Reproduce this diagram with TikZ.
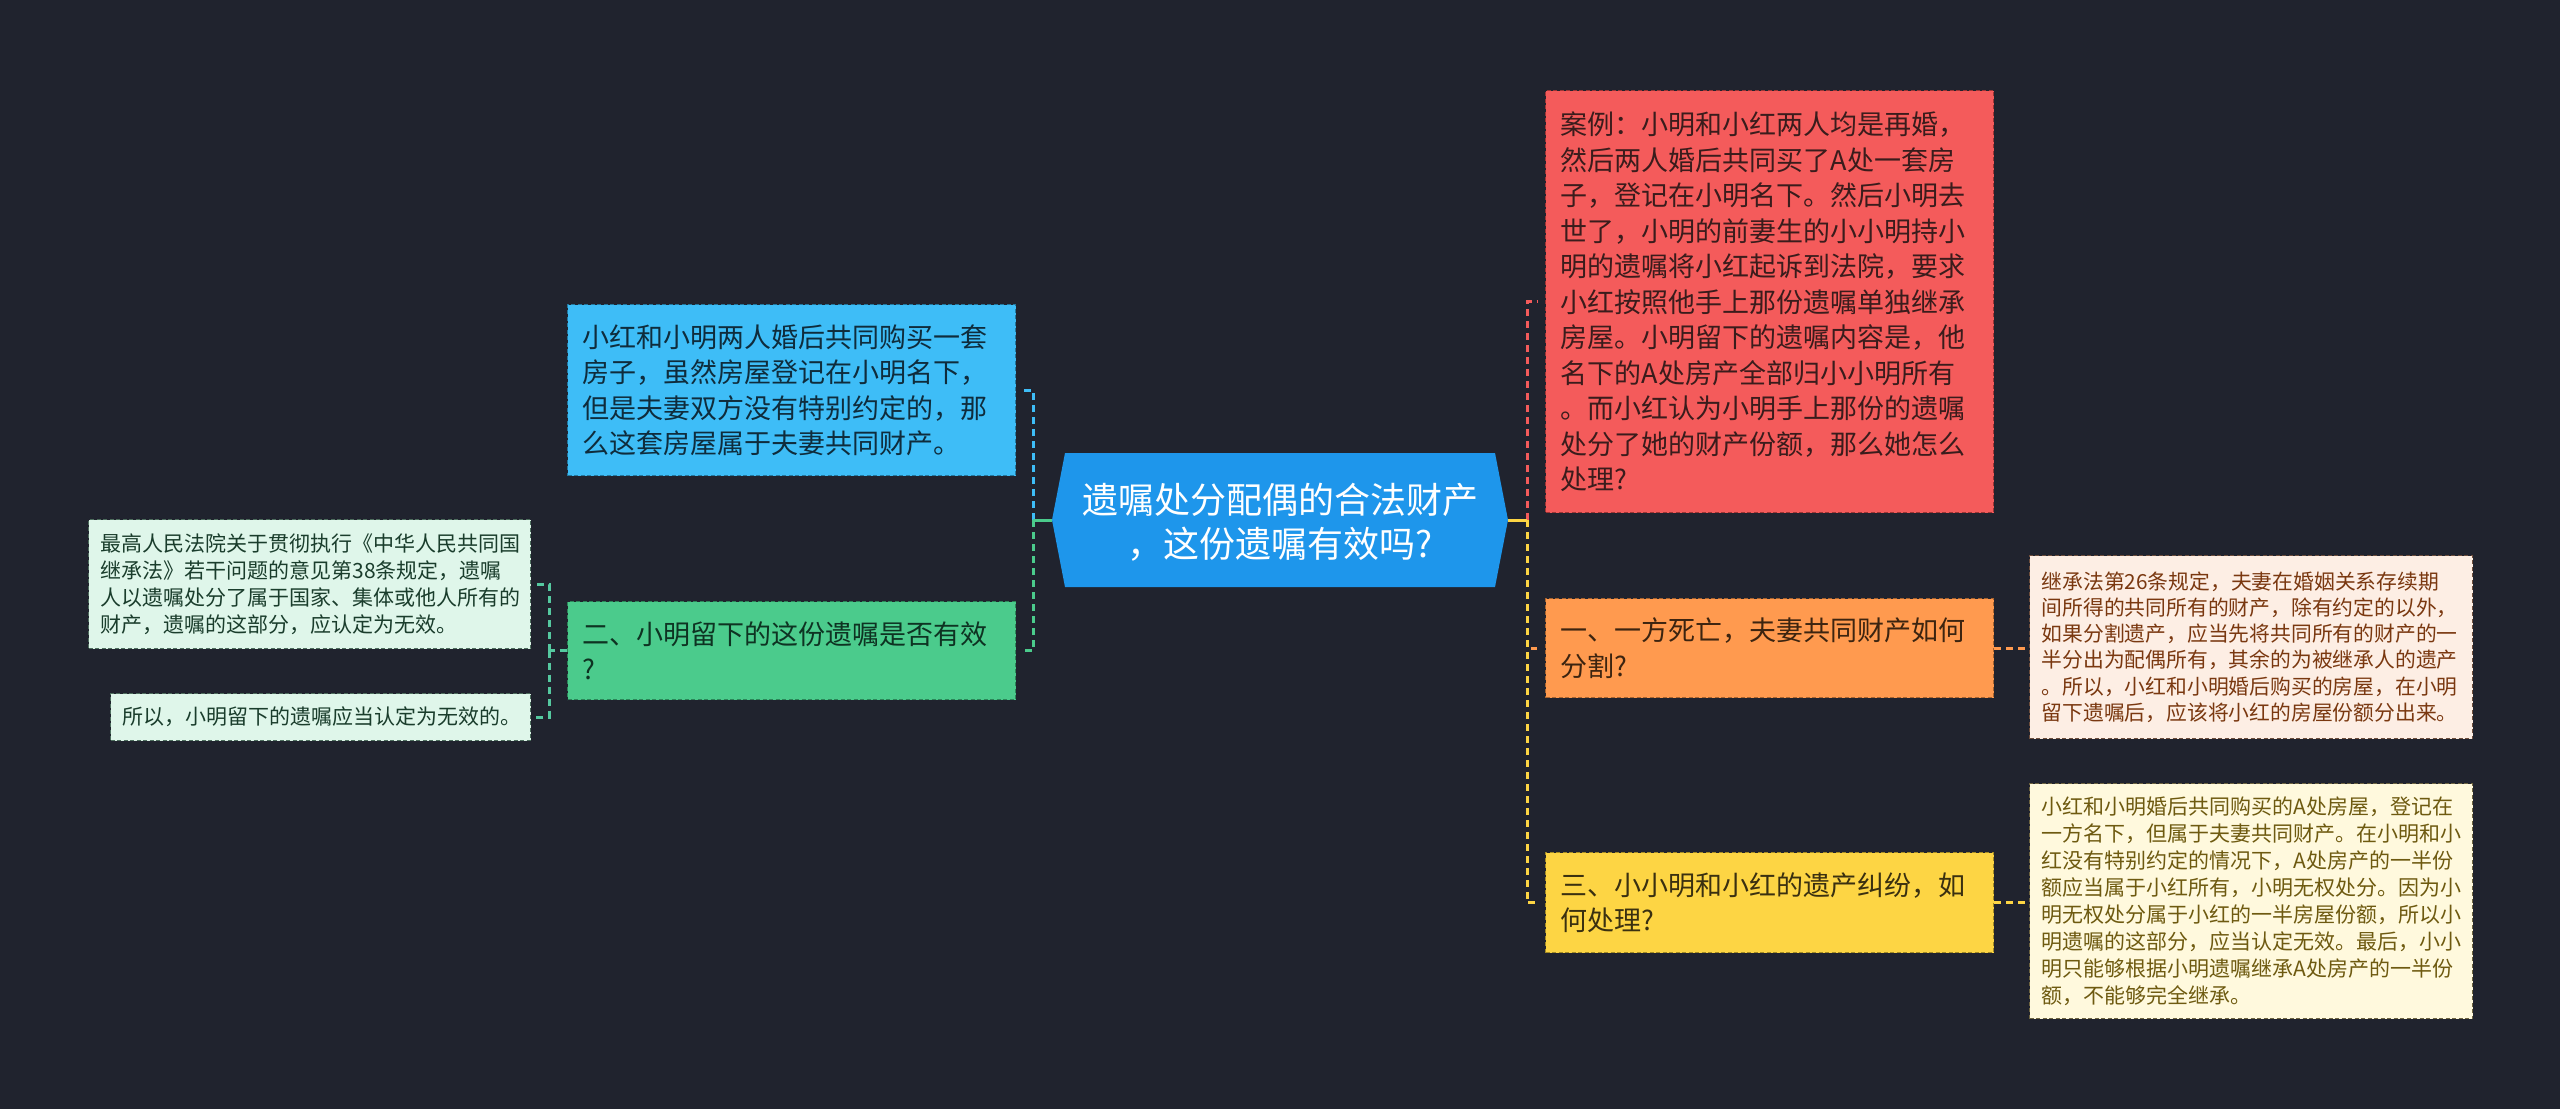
\documentclass[tikz,border=0pt]{standalone}
\usepackage{fontspec}
\setmainfont{Noto Sans CJK SC}
\usepackage{xcolor}
\usepackage{tikz}
\usetikzlibrary{positioning, calc}

\definecolor{bgnavy}{HTML}{20232E}
\definecolor{rootblue}{HTML}{1E96EB}
\definecolor{casered}{HTML}{F45B5B}
\definecolor{caseline}{HTML}{9E3434}
\definecolor{casetext}{HTML}{3A1C1C}
\definecolor{ownblue}{HTML}{3EBDF7}
\definecolor{ownline}{HTML}{23789F}
\definecolor{owntext}{HTML}{0F2C3C}
\definecolor{validgreen}{HTML}{4BCB8C}
\definecolor{validline}{HTML}{2C8659}
\definecolor{validtext}{HTML}{0E3322}
\definecolor{deathorange}{HTML}{FF9A4F}
\definecolor{deathline}{HTML}{A8632E}
\definecolor{deathtext}{HTML}{3C2410}
\definecolor{disputeyellow}{HTML}{FDD544}
\definecolor{disputeline}{HTML}{A38A25}
\definecolor{disputetext}{HTML}{3A3010}
\definecolor{mintfill}{HTML}{DFF6EA}
\definecolor{mintline}{HTML}{4E6E5E}
\definecolor{minttext}{HTML}{1A3D2C}
\definecolor{mintlink}{HTML}{55C9A0}
\definecolor{peachfill}{HTML}{FDEEE4}
\definecolor{peachline}{HTML}{6E4E3C}
\definecolor{peachtext}{HTML}{7A3810}
\definecolor{creamfill}{HTML}{FFF9DD}
\definecolor{creamline}{HTML}{6E6440}
\definecolor{creamtext}{HTML}{6E5A10}

\begin{document}
\begin{tikzpicture}[x=1pt, y=-1pt,
    topicbox/.style={anchor=north west, inner xsep=15pt, inner ysep=0pt, align=left,
        line width=1.4pt, dash pattern=on 4pt off 2.5pt,
        minimum width=448, font=\fontsize{27}{35.5}\selectfont, text width=418pt},
    notebox/.style={anchor=north west, inner xsep=12pt, inner ysep=0pt, align=left,
        line width=1.2pt, dash pattern=on 4pt off 2.5pt,
        font=\fontsize{21}{27}\selectfont},
    link/.style={line width=3pt, dash pattern=on 7pt off 5pt},
    stub/.style={line width=3pt}]

        %=====================
        % Canvas
        %=====================
        \fill[bgnavy] (0,0) rectangle (2560,1109);
        \useasboundingbox (0,0) rectangle (2560,1109);

        %=====================
        % Central topic
        %=====================
        \fill[rootblue] (1052,520) -- (1065,453) -- (1495,453) -- (1508,520)
        -- (1495,587) -- (1065,587) -- cycle;
        \coordinate (rootL) at (1052,520);
        \coordinate (rootR) at (1508,520);
        \node[align=center, text=white, font=\fontsize{36}{44}\selectfont] (root) at (1280,522)
        {遗嘱处分配偶的合法财产\\，这份遗嘱有效吗?};

        %=====================
        % Right-side topics
        %=====================
        \node[topicbox, fill=casered, draw=caseline, text=casetext, minimum height=422] (case) at (1545,90)
        {案例：小明和小红两人均是再婚，\\然后两人婚后共同买了A处一套房\\子，登记在小明名下。然后小明去\\世了，小明的前妻生的小小明持小\\明的遗嘱将小红起诉到法院，要求\\小红按照他手上那份遗嘱单独继承\\房屋。小明留下的遗嘱内容是，他\\名下的A处房产全部归小小明所有\\。而小红认为小明手上那份的遗嘱\\处分了她的财产份额，那么她怎么\\处理?};

        \node[topicbox, fill=deathorange, draw=deathline, text=deathtext, minimum height=99] (death) at (1545,598)
        {一、一方死亡，夫妻共同财产如何\\分割?};

        \node[topicbox, fill=disputeyellow, draw=disputeline, text=disputetext, minimum height=100] (dispute) at (1545,852)
        {三、小小明和小红的遗产纠纷，如\\何处理?};

        %=====================
        % Left-side topics
        %=====================
        \node[topicbox, minimum width=447, fill=ownblue, draw=ownline, text=owntext, minimum height=171] (own) at (567,304)
        {小红和小明两人婚后共同购买一套\\房子，虽然房屋登记在小明名下，\\但是夫妻双方没有特别约定的，那\\么这套房屋属于夫妻共同财产。};

        \node[topicbox, minimum width=447, fill=validgreen, draw=validline, text=validtext, minimum height=98] (valid) at (567,601)
        {二、小明留下的这份遗嘱是否有效\\?};

        %=====================
        % Notes
        %=====================
        \node[notebox, fill=mintfill, draw=mintline, text=minttext, minimum width=442, minimum height=129, text width=418pt] (law) at (88,519)
        {最高人民法院关于贯彻执行《中华人民共同国\\继承法》若干问题的意见第38条规定，遗嘱\\人以遗嘱处分了属于国家、集体或他人所有的\\财产，遗嘱的这部分，应认定为无效。};

        \node[notebox, fill=mintfill, draw=mintline, text=minttext, minimum width=420, minimum height=47, text width=396pt] (void) at (110,693)
        {所以，小明留下的遗嘱应当认定为无效的。};

        \node[notebox, fill=peachfill, draw=peachline, text=peachtext, minimum width=443, minimum height=183, text width=419pt,
        font=\fontsize{20.8}{26.3}\selectfont] (split) at (2029,555)
        {继承法第26条规定，夫妻在婚姻关系存续期\\间所得的共同所有的财产，除有约定的以外，\\如果分割遗产，应当先将共同所有的财产的一\\半分出为配偶所有，其余的为被继承人的遗产\\。所以，小红和小明婚后购买的房屋，在小明\\留下遗嘱后，应该将小红的房屋份额分出来。};

        \node[notebox, fill=creamfill, draw=creamline, text=creamtext, minimum width=443, minimum height=235, text width=419pt,
        font=\fontsize{21}{27.1}\selectfont] (share) at (2029,783)
        {小红和小明婚后共同购买的A处房屋，登记在\\一方名下，但属于夫妻共同财产。在小明和小\\红没有特别约定的情况下，A处房产的一半份\\额应当属于小红所有，小明无权处分。因为小\\明无权处分属于小红的一半房屋份额，所以小\\明遗嘱的这部分，应当认定无效。最后，小小\\明只能够根据小明遗嘱继承A处房产的一半份\\额，不能够完全继承。};

        %=====================
        % Connectors (left)
        %=====================
        \coordinate (trunkL) at (1033,520);
        \draw[link, ownblue] (trunkL) |- ([xshift=8pt]own.east);
        \draw[link, validgreen] (trunkL) |- ([xshift=8pt]valid.east);
        \draw[stub, validgreen] (rootL) -- (trunkL);

        \draw[link, mintlink] (valid.west) -- ++(-18,0) coordinate (trunkG);
        \draw[link, mintlink] (trunkG) |- ([xshift=3pt]law.east);
        \draw[link, mintlink] (trunkG) |- ([xshift=3pt]void.east);

        %=====================
        % Connectors (right)
        %=====================
        \coordinate (trunkR) at (1527,520);
        \draw[link, casered] (trunkR) |- ([xshift=-8pt]case.west);
        \draw[link, deathorange] (trunkR) |- ([xshift=-8pt]death.west);
        \draw[link, disputeyellow] (trunkR) |- ([xshift=-8pt]dispute.west);
        \draw[stub, disputeyellow] (rootR) -- (trunkR);

        \draw[link, deathorange] (death.east) -- (death.east -| split.west);
        \draw[link, disputeyellow] (dispute.east) -- (dispute.east -| share.west);

    \end{tikzpicture}
\end{document}
